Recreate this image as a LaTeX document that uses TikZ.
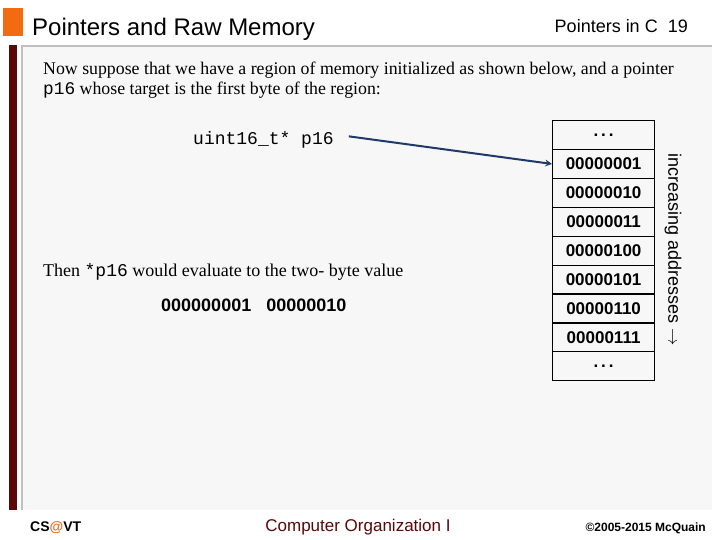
\documentclass[tikz,border=0pt]{standalone}
\usepackage{fontspec}
\setmainfont{Liberation Serif}
\newfontfamily\sans{Liberation Sans}
\newfontfamily\mono{Liberation Mono}
\definecolor{dred}{HTML}{5A0808}
\definecolor{orng}{HTML}{F26B10}
\definecolor{navy}{HTML}{1F3A68}
\begin{document}
\begin{tikzpicture}[x=1pt,y=-1pt,
  cell/.style={draw=black,line width=1.2pt,minimum width=102pt,minimum height=28.9pt,inner sep=0pt,font=\sans\bfseries\fontsize{17}{17}\selectfont,anchor=north west}]
\useasboundingbox (0,0) rectangle (720,540);
\fill[white] (0,0) rectangle (720,540);
\fill[orng] (3,8) rectangle (23,36);
\node[anchor=base west,inner sep=0pt,font=\sans\fontsize{24}{24}\selectfont] (title) at (32,36) {Pointers and Raw Memory};
\node[anchor=base east,inner sep=0pt,font=\sans\fontsize{18}{18}\selectfont] (pg) at (688,33) {Pointers in C\ \ 19};
\fill[dred] (9,45) rectangle (17,510);
\fill[black!3] (21,45) rectangle (712,510);
\draw[black!25,line width=2pt] (22,510) -- (22,46) -- (712,46);
\node[anchor=base west,inner sep=0pt,font=\fontsize{17.8}{17.8}\selectfont] (p1) at (43,75) {Now suppose that we have a region of memory initialized as shown below, and a pointer};
\node[anchor=base west,inner sep=0pt,font=\fontsize{17.8}{17.8}\selectfont] (p2) at (43,95) {{\mono p16} whose target is the first byte of the region:};
\node[anchor=base west,inner sep=0pt,font=\mono\fontsize{18}{18}\selectfont] (decl) at (193,145) {uint16\_t* p16};
\node[anchor=base west,inner sep=0pt,font=\fontsize{18}{18}\selectfont] (then) at (43,276) {Then {\mono *p16} would evaluate to the two- byte value};
\node[anchor=base west,inner sep=0pt,font=\sans\bfseries\fontsize{18}{18}\selectfont] (val) at (161,311) {000000001\ \ \ 00000010};
\foreach \t [count=\i from 0] in {{.\,.\,.},00000001,00000010,00000011,00000100,00000101,00000110,00000111,{.\,.\,.}}
  \node[cell] (c\i) at (552,120+28.9*\i) {\t};
\node[rotate=-90,inner sep=0pt,font=\sans\fontsize{18}{18}\selectfont] (inc) at (673,250) {increasing addresses $\rightarrow$};
\draw[navy,line width=2pt,-stealth] (decl.east) ++(15,-4) coordinate (s) -- (c1.west);
\node[anchor=base west,inner sep=0pt,font=\sans\bfseries\fontsize{14}{14}\selectfont] (cs) at (30,531) {CS{\color{orng}@}VT};
\node[anchor=base,inner sep=0pt,text=dred,font=\sans\fontsize{17}{17}\selectfont] (co) at (358,531) {Computer Organization I};
\node[anchor=base east,inner sep=0pt,font=\sans\bfseries\fontsize{12}{12}\selectfont] (cp) at (706,531) {\textcopyright2005-2015 McQuain};
\end{tikzpicture}
\end{document}
